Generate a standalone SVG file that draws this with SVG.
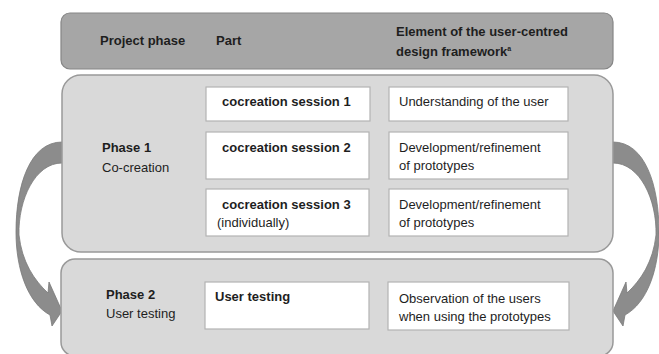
<svg xmlns="http://www.w3.org/2000/svg" width="659" height="354" viewBox="0 0 659 354">
  <style>
    .hdr { fill: #a6a6a6; stroke: #858585; stroke-width: 1.2; }
    .phase { fill: #d9d9d9; stroke: #999999; stroke-width: 1.5; }
    .cell { fill: #ffffff; stroke: #b3b3b3; stroke-width: 1.2; }
    .arrow { fill: #8c8c8c; stroke: #7a7a7a; stroke-width: 0.8; }
    text { font-family: "Liberation Sans", Arial, sans-serif; font-size: 13px; fill: #1e1e1e; }
    .b { font-weight: bold; }
    .sup { font-size: 7px; font-weight: bold; }
  </style>
  <defs>
    <!-- curved block arrow leaving the left side of one box and entering the next -->
    <path id="curved-arrow" d="M 64,142 L 62,142 C 30,142 16,185 16,232 C 16,270 28,303 50,315 L 52,326 L 62,311 L 49,282 L 48,293 C 34,280 22,262 19,235 C 18,200 35,163 62,163 L 64,163 Z"/>
  </defs>

  <!-- connectors: phase 1 to phase 2 on both sides -->
  <g id="connectors">
    <use href="#curved-arrow" class="arrow"/>
    <use href="#curved-arrow" class="arrow" transform="translate(675,0) scale(-1,1)"/>
  </g>

  <!-- column header band -->
  <g id="header">
    <rect class="hdr" x="61" y="13" width="552" height="56" rx="9"/>
    <text class="b" x="100" y="45">Project phase</text>
    <text class="b" x="216" y="45">Part</text>
    <text class="b" x="396" y="36">Element of the user-centred</text>
    <text class="b" x="396" y="56">design framework<tspan class="sup" dy="-5">a</tspan></text>
  </g>

  <!-- phase 1: co-creation -->
  <g id="phase1">
    <rect class="phase" x="62" y="75" width="551" height="177" rx="19"/>
    <text class="b" x="102" y="152">Phase 1</text>
    <text x="102" y="172">Co-creation</text>
  </g>

  <g id="session1">
    <rect class="cell" x="206" y="87" width="164" height="34"/>
    <text class="b" x="222" y="106">cocreation session 1</text>
  </g>
  <g id="element1">
    <rect class="cell" x="389" y="87" width="179" height="34"/>
    <text x="399" y="106">Understanding of the user</text>
  </g>

  <g id="session2">
    <rect class="cell" x="206" y="132" width="163" height="47"/>
    <text class="b" x="222" y="152">cocreation session 2</text>
  </g>
  <g id="element2">
    <rect class="cell" x="389" y="132" width="179" height="47"/>
    <text x="399" y="152">Development/refinement</text>
    <text x="399" y="170">of prototypes</text>
  </g>

  <g id="session3">
    <rect class="cell" x="206" y="189" width="163" height="47"/>
    <text class="b" x="222" y="209">cocreation session 3</text>
    <text x="217" y="227">(individually)</text>
  </g>
  <g id="element3">
    <rect class="cell" x="389" y="189" width="179" height="47"/>
    <text x="399" y="209">Development/refinement</text>
    <text x="399" y="227">of prototypes</text>
  </g>

  <!-- phase 2: user testing -->
  <g id="phase2">
    <rect class="phase" x="61" y="259" width="552" height="97" rx="14"/>
    <text class="b" x="106" y="299">Phase 2</text>
    <text x="106" y="318">User testing</text>
  </g>

  <g id="usertest">
    <rect class="cell" x="205" y="282" width="164" height="47"/>
    <text class="b" x="215" y="301">User testing</text>
  </g>
  <g id="element4">
    <rect class="cell" x="388" y="282" width="181" height="48"/>
    <text x="399" y="303">Observation of the users</text>
    <text x="399" y="321">when using the prototypes</text>
  </g>
</svg>
